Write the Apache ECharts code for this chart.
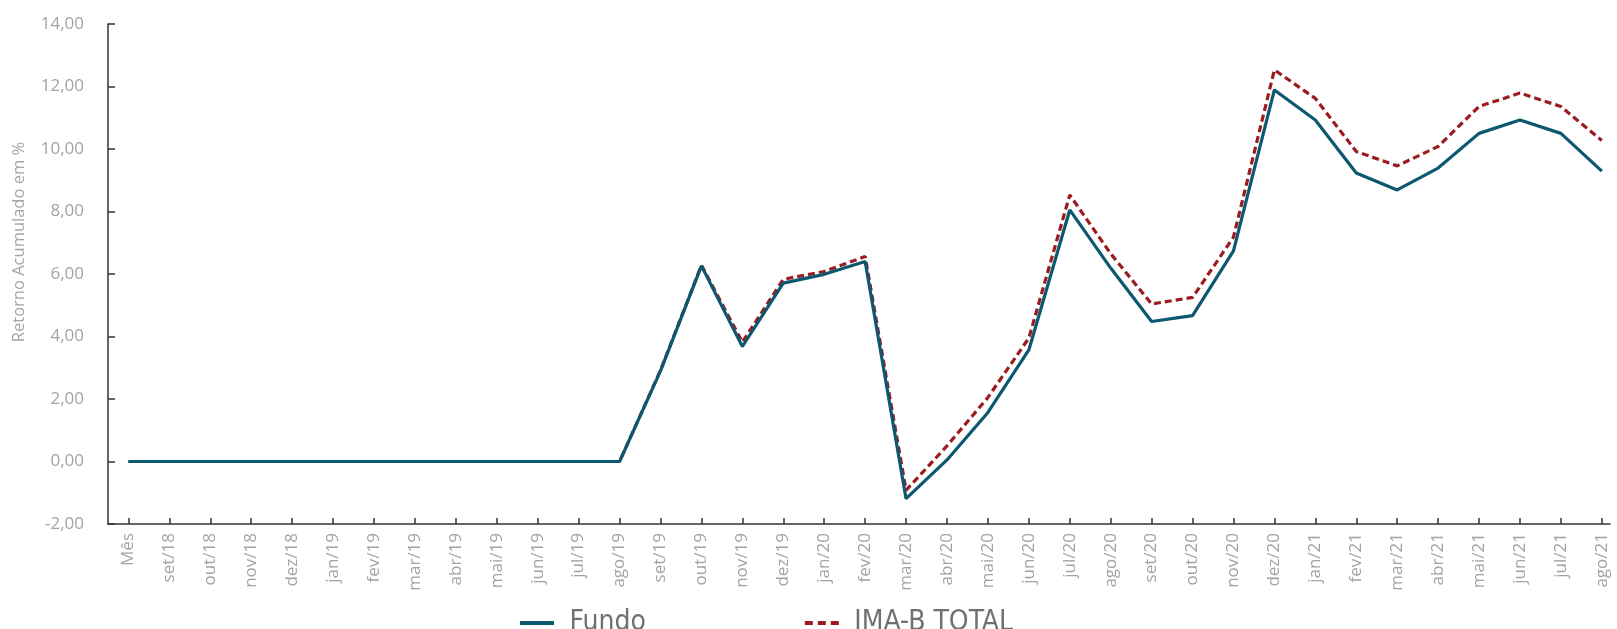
<!DOCTYPE html>
<html>
<head>
<meta charset="utf-8">
<script src="https://cdn.jsdelivr.net/npm/echarts@6/dist/echarts.min.js"></script>
<style>
html,body{margin:0;padding:0;background:#fff;}
#chart{width:1617px;height:629px;}
</style>
</head>
<body>
<div id="chart"></div>
<script>
const categories = ['Mês','set/18','out/18','nov/18','dez/18',
  'jan/19','fev/19','mar/19','abr/19','mai/19','jun/19','jul/19','ago/19','set/19','out/19','nov/19','dez/19',
  'jan/20','fev/20','mar/20','abr/20','mai/20','jun/20','jul/20','ago/20','set/20','out/20','nov/20','dez/20',
  'jan/21','fev/21','mar/21','abr/21','mai/21','jun/21','jul/21','ago/21'];

const fundo = [0,0,0,0,0,0,0,0,0,0,0,0,0,
  2.90,6.26,3.68,5.71,5.99,6.40,-1.19,0.05,1.57,3.57,8.05,6.19,4.48,4.67,6.74,11.89,
  10.93,9.23,8.69,9.39,10.50,10.93,10.50,9.29];

const imab = [0,0,0,0,0,0,0,0,0,0,0,0,0,
  2.92,6.28,3.82,5.83,6.08,6.56,-0.92,0.50,2.05,3.95,8.53,6.65,5.04,5.25,7.18,12.53,
  11.62,9.92,9.46,10.08,11.36,11.79,11.36,10.27];

const yTicks = {min: -2, max: 14, interval: 2};

const idx = categories.map((_, i) => i);
const pairs = arr => arr.map((v, i) => [i, v]);

const chart = echarts.init(document.getElementById('chart'));
chart.setOption({
  animation: false,
  backgroundColor: '#ffffff',
  grid: {left: 108, right: 7, top: 24, bottom: 105},
  legend: {
    data: [
      {name: 'Fundo', icon: 'path://M0,0h34v4h-34z', itemStyle: {color: '#0b5870'}},
      {name: 'IMA-B TOTAL', icon: 'path://M0,0h8v4h-8zM13,0h8v4h-8zM26,0h8v4h-8z', itemStyle: {color: '#9b1b1f'}}
    ],
    left: 515, top: 604,
    itemWidth: 35, itemHeight: 4, itemGap: 159,
    textStyle: {fontFamily: "'Liberation Sans Narrow','DejaVu Sans Condensed',sans-serif", fontSize: 28, color: '#6e7173', padding: [0,0,0,10]}
  },
  graphic: [{
    type: 'text', x: 19, y: 242, rotation: Math.PI / 2,
    style: {text: 'Retorno Acumulado em %', fill: '#a6a6a6', font: "16.5px 'Open Sans', sans-serif", align: 'center', verticalAlign: 'middle'}
  }],
  xAxis: {
    type: 'value', min: -0.5, max: 36.2,
    splitLine: {show: false},
    axisLine: {show: true, onZero: false, lineStyle: {color: '#333', width: 1.5}},
    axisTick: {show: true, inside: true, length: 6, customValues: idx, lineStyle: {color: '#333', width: 1.5}},
    axisLabel: {
      customValues: idx, rotate: 90, margin: 9,
      color: '#a3a3a3', fontFamily: "'Open Sans', sans-serif", fontSize: 17,
      formatter: v => categories[Math.round(v)]
    }
  },
  yAxis: {
    type: 'value', min: yTicks.min, max: yTicks.max, interval: yTicks.interval,
    splitLine: {show: false},
    axisLine: {show: true, onZero: false, lineStyle: {color: '#333', width: 1.5}},
    axisTick: {show: true, inside: true, length: 7, lineStyle: {color: '#333', width: 1.5}},
    axisLabel: {
      margin: 24, color: '#a3a3a3', fontFamily: "'Open Sans', sans-serif", fontSize: 17,
      formatter: v => v.toFixed(2).replace('.', ',')
    }
  },
  series: [
    {name: 'IMA-B TOTAL', type: 'line', data: pairs(imab), symbol: 'none', z: 2,
     lineStyle: {color: '#9b1b1f', width: 3.2, type: [7, 4]}, itemStyle: {color: '#9b1b1f'}},
    {name: 'Fundo', type: 'line', data: pairs(fundo), symbol: 'none', z: 3,
     lineStyle: {color: '#0b5870', width: 3.2}, itemStyle: {color: '#0b5870'}}
  ]
});
</script>
</body>
</html>
